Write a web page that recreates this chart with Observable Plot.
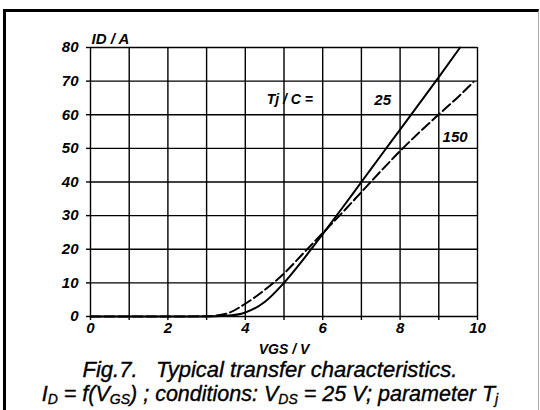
<!DOCTYPE html>
<html><head><meta charset="utf-8">
<script src="https://cdn.jsdelivr.net/npm/d3@7"></script>
<script src="https://cdn.jsdelivr.net/npm/@observablehq/plot@0.6"></script>
<style>
body{margin:0;background:#fff;}
#wrap{position:relative;width:540px;height:410px;overflow:hidden;font-family:"Liberation Sans",Arial,sans-serif;}
#frame{position:absolute;left:3px;top:9px;width:532px;height:420px;border-left:3px solid #000;border-top:3px solid #000;border-right:1px solid #aaa;}
#chart{position:absolute;left:0;top:0;}
#cap{position:absolute;left:0;top:358px;width:540px;text-align:center;font-style:italic;font-size:22px;line-height:24px;white-space:pre;color:#000;-webkit-text-stroke:0.35px #000;}
#cap .l2{font-size:21.5px;}
#cap sub{font-size:14px;vertical-align:-3px;line-height:0;}
</style></head><body>
<div id="wrap"><div id="frame"></div><div id="chart"></div><div id="cap"></div></div>
<script>
// Series: Tj = 25 C (solid)
const vgs25 = [0, 1, 2, 3, 3.5, 4, 4.5, 5, 5.5, 6, 6.5, 7, 7.5, 8, 8.5, 9, 9.55];
const id25  = [0, 0, 0, 0, 0.2, 1.2, 4.3, 10, 17, 24.5, 32.2, 40, 47.8, 55.6, 63.4, 71.2, 80];
// Series: Tj = 150 C (dashed)
const vgs150 = [0, 1, 2, 3, 3.5, 4, 4.5, 5, 5.5, 6, 6.5, 7, 7.5, 8, 8.5, 9, 9.5, 9.9];
const id150  = [0, 0, 0, 0.1, 0.8, 3.8, 7.9, 12.8, 18.8, 24.8, 30.8, 37, 43.2, 49.2, 54.8, 60.1, 65.3, 69.8];

const xTicks = [0, 1, 2, 3, 4, 5, 6, 7, 8, 9, 10];
const xTickLabels = ["0", "", "2", "", "4", "", "6", "", "8", "", "10"];
const yTicks = [0, 10, 20, 30, 40, 50, 60, 70, 80];
const yTickLabels = ["0", "10", "20", "30", "40", "50", "60", "70", "80"];

const xLabel = "VGS / V";
const yLabel = "ID / A";
const paramLabel = "Tj / C =";
const seriesLabels = ["25", "150"];
const seriesLabelX = [7.55, 9.42];
const seriesLabelY = [64.4, 53.4];
const paramLabelX = [5.15];
const paramLabelY = [64.4];

const captionLine1 = "Fig.7.   Typical transfer characteristics.";
const captionLine2 = "I<sub>D</sub> = f(V<sub>GS</sub>) ; conditions: V<sub>DS</sub> = 25 V; parameter T<sub>j</sub>";

const d25 = vgs25.map((x, i) => ({x, y: id25[i]}));
const d150 = vgs150.map((x, i) => ({x, y: id150[i]}));
const lab = seriesLabels.map((t, i) => ({t, x: seriesLabelX[i], y: seriesLabelY[i]}));

const font = {fontFamily: "'Liberation Sans', Arial, sans-serif", fontStyle: "italic", fontWeight: "bold"};

const chart = Plot.plot({
  width: 540, height: 355,
  marginTop: 47, marginRight: 63, marginBottom: 39, marginLeft: 90,
  x: {domain: [0, 10]},
  y: {domain: [0, 80]},
  style: {background: "transparent", color: "#000", fontSize: "15px", ...font},
  marks: [
    Plot.gridX(xTicks, {stroke: "#000", strokeOpacity: 1, strokeWidth: 1.4}),
    Plot.gridY(yTicks, {stroke: "#000", strokeOpacity: 1, strokeWidth: 1.4}),
    Plot.axisX(xTicks, {tickSize: 4, tickPadding: 2, tickFormat: (d) => xTickLabels[xTicks.indexOf(d)], label: null, strokeWidth: 1.4, fontSize: 15, ...font}),
    Plot.axisY(yTicks, {tickSize: 4, tickPadding: 8, tickFormat: (d) => yTickLabels[yTicks.indexOf(d)], label: null, strokeWidth: 1.4, fontSize: 15, ...font}),
    Plot.line(d150, {x: "x", y: "y", stroke: "#000", strokeWidth: 2, strokeDasharray: "10,4", curve: "monotone-x"}),
    Plot.line(d25, {x: "x", y: "y", stroke: "#000", strokeWidth: 2, curve: "monotone-x"}),
    Plot.text(lab, {x: "x", y: "y", text: "t", fontSize: 15, fill: "#000", stroke: "#fff", strokeWidth: 4, paintOrder: "stroke", ...font}),
    Plot.text([paramLabel], {x: paramLabelX[0], y: paramLabelY[0], text: d => d, fontSize: 14, fill: "#000", ...font}),
    Plot.text([yLabel], {frameAnchor: "top-left", dx: 1, dy: -4, textAnchor: "start", lineAnchor: "bottom", fontSize: 15, ...font}),
    Plot.text([xLabel], {frameAnchor: "bottom", dy: 37, lineAnchor: "bottom", fontSize: 14, ...font})
  ]
});
document.getElementById("chart").appendChild(chart);
document.getElementById("cap").innerHTML = captionLine1 + "\n" + '<span class="l2">' + captionLine2 + '</span>';
</script>
</body></html>
